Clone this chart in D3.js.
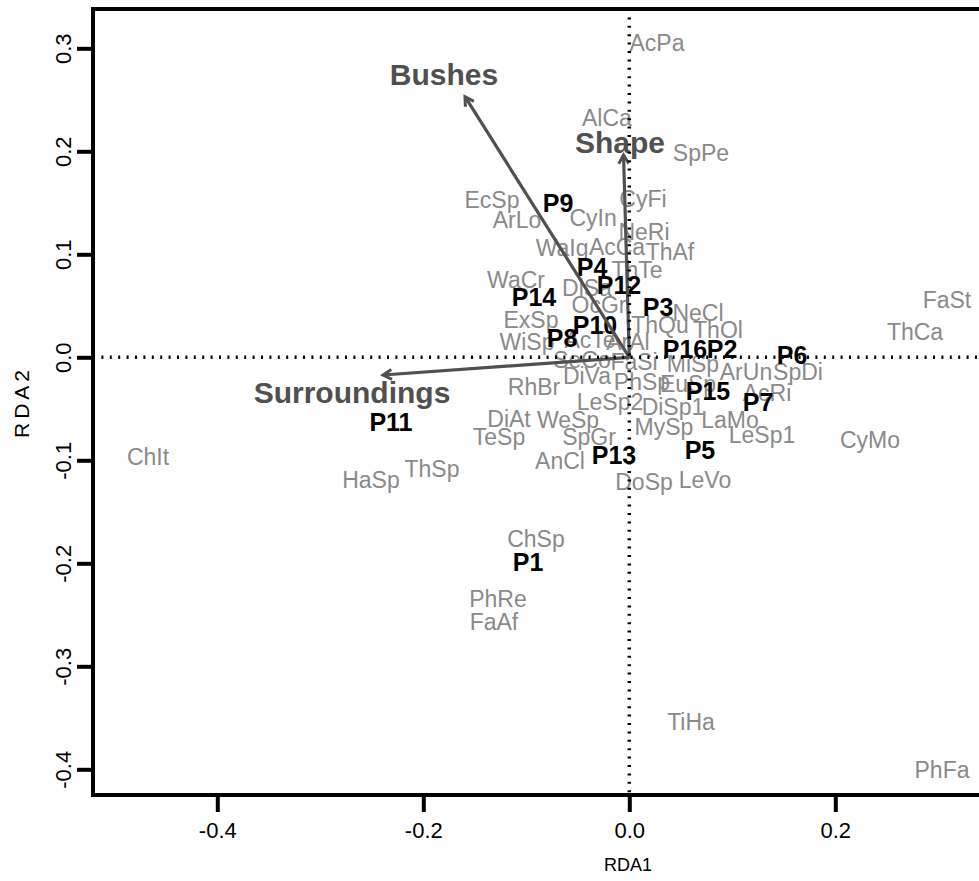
<!DOCTYPE html>
<html>
<head>
<meta charset="utf-8">
<script src="https://cdn.jsdelivr.net/npm/d3@7"></script>
<style>
  body { margin: 0; background: #fff; }
  svg { display: block; font-family: "Liberation Sans", Arial, sans-serif; }
</style>
</head>
<body>
<svg id="chart" width="979" height="881"></svg>
<script>
'use strict';

// species scores (grey labels)
const speciesNames = ["AcPa", "AlCa", "SpPe", "EcSp", "CyFi", "ArLo", "CyIn", "NeRi", "WaIg", "AcCa",
    "ThAf", "ThTe", "WaCr", "DiSa", "OcGr", "NeCl", "ExSp", "ThQu", "ThOl", "WiSp",
    "AcTe", "ArAl", "SeCo", "FaSi", "MiSp", "ArUn", "SpDi", "DiVa", "RhBr", "PhSp",
    "EuSp", "AcRi", "LeSp2", "DiSp1", "DiAt", "WeSp", "MySp", "LaMo", "LeSp1", "TeSp",
    "SpGr", "AnCl", "DoSp", "LeVo", "HaSp", "ThSp", "ChSp", "PhRe", "FaAf", "ChIt",
    "ThCa", "FaSt", "CyMo", "TiHa", "PhFa"];
const speciesX = [0.0269, -0.0217, 0.0696, -0.1333, 0.0133, -0.1090, -0.0352, 0.0143, -0.0653, -0.0119,
    0.0395, 0.0075, -0.1100, -0.0411, -0.0294, 0.0667, -0.0954, 0.0298, 0.0861, -0.0993,
    -0.0382, -0.0013, -0.0459, 0.0046, 0.0618, 0.1133, 0.1638, -0.0411, -0.0925, 0.0123,
    0.0570, 0.1337, -0.0187, 0.0424, -0.1168, -0.0595, 0.0337, 0.0978, 0.1288, -0.1265,
    -0.0391, -0.0673, 0.0143, 0.0735, -0.2508, -0.1916, -0.0906, -0.1275, -0.1314, -0.4673,
    0.2774, 0.3084, 0.2337, 0.0599, 0.3036];
const speciesY = [0.3051, 0.2323, 0.1983, 0.1527, 0.1537, 0.1333, 0.1352, 0.1217, 0.1061, 0.1071,
    0.1022, 0.0848, 0.0750, 0.0673, 0.0508, 0.0430, 0.0362, 0.0314, 0.0265, 0.0149,
    0.0168, 0.0149, -0.0026, -0.0046, -0.0065, -0.0143, -0.0143, -0.0182, -0.0288, -0.0240,
    -0.0259, -0.0347, -0.0434, -0.0483, -0.0599, -0.0609, -0.0677, -0.0609, -0.0754, -0.0774,
    -0.0774, -0.1007, -0.1211, -0.1191, -0.1191, -0.1084, -0.1764, -0.2347, -0.2570, -0.0968,
    0.0246, 0.0556, -0.0803, -0.3541, -0.4007];

// site scores (black bold labels)
const siteNames = ["P9", "P4", "P12", "P14", "P3", "P10", "P8", "P16", "P2", "P6",
    "P15", "P7", "P13", "P5", "P11", "P1"];
const siteX = [-0.0692, -0.0362, -0.0100, -0.0925, 0.0279, -0.0333, -0.0653, 0.0541, 0.0900, 0.1580,
    0.0764, 0.1250, -0.0149, 0.0686, -0.2314, -0.0983];
const siteY = [0.1498, 0.0877, 0.0702, 0.0585, 0.0488, 0.0314, 0.0187, 0.0081, 0.0081, 0.0022,
    -0.0327, -0.0434, -0.0949, -0.0900, -0.0628, -0.1987];

// environmental vectors
const envNames = ["Bushes", "Shape", "Surroundings"];
const envX = [-0.1595, -0.0056, -0.2391];
const envY = [0.2530, 0.1964, -0.0172];
const envLabelX = [-0.1799, -0.0090, -0.2692];
const envLabelY = [0.2741, 0.2090, -0.0342];

// axes
const xTicks = [-0.4, -0.2, 0.0, 0.2];
const yTicks = [-0.4, -0.3, -0.2, -0.1, 0.0, 0.1, 0.2, 0.3];
const xTitle = "RDA1";
const yTitle = "RDA2";

// IIFE
(function () {
    var svg = d3.select("#chart");
    svg.append("rect").attr("width", 979).attr("height", 881).attr("fill", "#fff");

    var x = d3.scaleLinear().domain([-0.4, 0.2]).range([217.3, 835.3]);
    var y = d3.scaleLinear().domain([-0.4, 0.3]).range([769.3, 48.3]);
    var left = 93, top = 9, bottom = 795, right = 995;
    var font = '"Liberation Sans", Arial, sans-serif';

    //axes
    var gx = svg.append("g")
        .attr("transform", "translate(0," + bottom + ")")
        .call(d3.axisBottom(x).tickValues(xTicks).tickSize(17).tickPadding(10)
            .tickFormat(function (d) { return d.toFixed(1); }));
    gx.attr("font-size", 22).attr("font-family", font);
    gx.select(".domain").remove();
    gx.selectAll(".tick line").attr("stroke", "#000").attr("stroke-width", 4);
    gx.selectAll(".tick text").attr("fill", "#000");

    var gy = svg.append("g")
        .attr("transform", "translate(" + left + ",0)")
        .call(d3.axisLeft(y).tickValues(yTicks).tickSize(16)
            .tickFormat(function (d) { return d.toFixed(1); }));
    gy.attr("font-size", 22).attr("font-family", font);
    gy.select(".domain").remove();
    gy.selectAll(".tick line").attr("stroke", "#000").attr("stroke-width", 4);
    gy.selectAll(".tick text")
        .attr("fill", "#000")
        .attr("text-anchor", "middle")
        .attr("transform", "rotate(-90)")
        .attr("x", 0)
        .attr("y", -22)
        .attr("dy", 0);

    //frame
    svg.append("path")
        .attr("d", "M" + right + "," + top + "H" + left + "V" + bottom + "H" + right)
        .attr("fill", "none")
        .attr("stroke", "#000")
        .attr("stroke-width", 4)
        .attr("stroke-linejoin", "miter");

    //titles
    svg.append("text")
        .attr("x", 628).attr("y", 865).attr("dy", "0.35em")
        .attr("text-anchor", "middle")
        .attr("font-size", 18)
        .text(xTitle);
    svg.append("text")
        .attr("transform", "translate(22,402) rotate(-90)")
        .attr("dy", "0.35em")
        .attr("text-anchor", "middle")
        .attr("font-size", 21)
        .attr("letter-spacing", 4)
        .text(yTitle);

    //species
    svg.append("g").selectAll("text")
        .data(speciesNames)
        .enter()
        .append("text")
            .attr("x", function (d, i) { return x(speciesX[i]); })
            .attr("y", function (d, i) { return y(speciesY[i]); })
            .attr("dy", "0.35em")
            .attr("text-anchor", "middle")
            .attr("font-size", 23)
            .attr("fill", "#8a8a8a")
            .text(function (d) { return d; });

    //sites
    svg.append("g").selectAll("text")
        .data(siteNames)
        .enter()
        .append("text")
            .attr("x", function (d, i) { return x(siteX[i]); })
            .attr("y", function (d, i) { return y(siteY[i]); })
            .attr("dy", "0.35em")
            .attr("text-anchor", "middle")
            .attr("font-size", 25)
            .attr("font-weight", "bold")
            .attr("fill", "#000")
            .text(function (d) { return d; });

    //arrows
    var arrows = svg.append("g");
    envNames.forEach(function (name, i) {
        var x0 = x(0), y0 = y(0), x1 = x(envX[i]), y1 = y(envY[i]);
        var a = Math.atan2(y1 - y0, x1 - x0), len = 10, spread = Math.PI / 6;
        arrows.append("line")
            .attr("x1", x0).attr("y1", y0).attr("x2", x1).attr("y2", y1)
            .attr("stroke", "#505050").attr("stroke-width", 3.2);
        arrows.append("path")
            .attr("d", "M" + (x1 - len * Math.cos(a - spread)) + "," + (y1 - len * Math.sin(a - spread)) +
                "L" + x1 + "," + y1 +
                "L" + (x1 - len * Math.cos(a + spread)) + "," + (y1 - len * Math.sin(a + spread)))
            .attr("fill", "none").attr("stroke", "#505050").attr("stroke-width", 3);
        arrows.append("text")
            .attr("x", x(envLabelX[i]))
            .attr("y", y(envLabelY[i]))
            .attr("dy", "0.35em")
            .attr("text-anchor", "middle")
            .attr("font-size", 30)
            .attr("font-weight", "bold")
            .attr("fill", "#505050")
            .text(name);
    });

    //zero lines, dotted
    svg.append("line")
        .attr("x1", left).attr("x2", right).attr("y1", y(0)).attr("y2", y(0))
        .attr("stroke", "#000").attr("stroke-width", 3.5).attr("stroke-dasharray", "2 6.4");
    svg.append("line")
        .attr("x1", x(0)).attr("x2", x(0)).attr("y1", top).attr("y2", bottom)
        .attr("stroke", "#000").attr("stroke-width", 3.5).attr("stroke-dasharray", "2 6.4");
})();
</script>
</body>
</html>
